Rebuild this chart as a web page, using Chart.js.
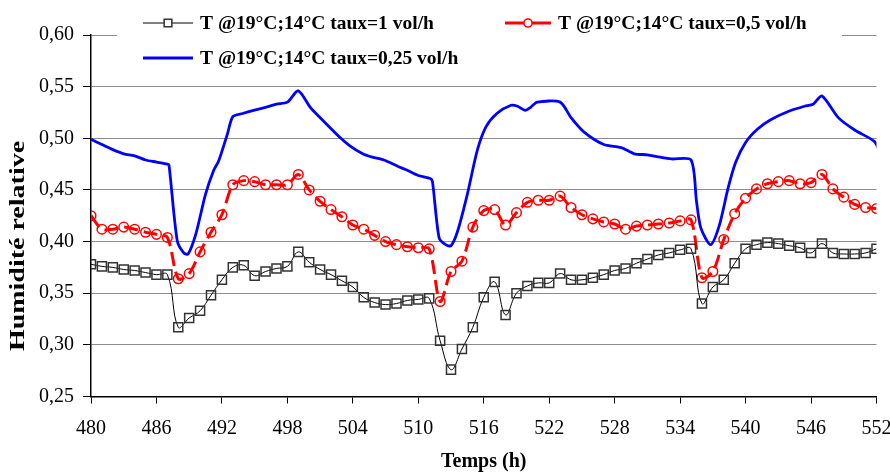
<!DOCTYPE html>
<html>
<head>
<meta charset="utf-8">
<script src="https://cdn.jsdelivr.net/npm/chart.js@4.4.0/dist/chart.umd.min.js"></script>
<style>
    body { margin: 0; background: #fff; }
</style>
</head>
<body>
<canvas id="chart" width="890" height="473"></canvas>
<script>
// hourly samples (black squares and red circles)
var hours = [480, 481, 482, 483, 484, 485, 486, 487, 488, 489, 490, 491, 492, 493, 494, 495, 496, 497, 498, 499,
    500, 501, 502, 503, 504, 505, 506, 507, 508, 509, 510, 511, 512, 513, 514, 515, 516, 517, 518, 519,
    520, 521, 522, 523, 524, 525, 526, 527, 528, 529, 530, 531, 532, 533, 534, 535, 536, 537, 538, 539,
    540, 541, 542, 543, 544, 545, 546, 547, 548, 549, 550, 551, 552];

var taux1 = [0.378, 0.376, 0.375, 0.373, 0.372, 0.370, 0.368, 0.368, 0.317, 0.326, 0.333, 0.348, 0.363, 0.375, 0.377, 0.367, 0.371, 0.374, 0.376, 0.390,
    0.380, 0.373, 0.368, 0.362, 0.356, 0.346, 0.341, 0.339, 0.340, 0.343, 0.344, 0.345, 0.304, 0.276, 0.296, 0.317, 0.346, 0.361, 0.329, 0.350,
    0.357, 0.360, 0.360, 0.369, 0.363, 0.363, 0.365, 0.368, 0.372, 0.374, 0.379, 0.383, 0.387, 0.389, 0.392, 0.393, 0.340, 0.356, 0.363, 0.379,
    0.393, 0.397, 0.399, 0.398, 0.396, 0.394, 0.389, 0.398, 0.389, 0.388, 0.388, 0.389, 0.393];

var taux05 = [0.425, 0.412, 0.412, 0.414, 0.412, 0.409, 0.407, 0.404, 0.364, 0.369, 0.390, 0.409, 0.426, 0.455, 0.459, 0.458, 0.455, 0.455, 0.455, 0.465,
    0.450, 0.439, 0.431, 0.424, 0.416, 0.412, 0.406, 0.400, 0.397, 0.395, 0.394, 0.393, 0.342, 0.371, 0.381, 0.414, 0.430, 0.431, 0.416, 0.428,
    0.438, 0.440, 0.440, 0.444, 0.433, 0.426, 0.422, 0.419, 0.417, 0.412, 0.415, 0.416, 0.417, 0.418, 0.420, 0.421, 0.365, 0.371, 0.402, 0.427,
    0.442, 0.451, 0.456, 0.458, 0.459, 0.456, 0.457, 0.465, 0.451, 0.443, 0.436, 0.433, 0.432];

// finer samples for the blue curve
var hours025 = [480, 481, 482, 483, 484, 485, 486, 487, 487.15, 487.9, 488.5, 488.9, 489.6, 490.5, 491.25, 491.7, 492.5, 493, 493.9, 494.9,
    496, 497, 498, 499, 500.1, 501, 502.8, 503.7, 504.9, 505.7, 506.85, 508.1, 509, 510, 511.1, 511.3, 511.9, 512.5, 513, 513.6,
    514.5, 515.4, 516.2, 517.2, 518.5, 519.1, 519.8, 520.3, 520.9, 523, 524, 525.2, 527, 528.6, 529.8, 531, 532, 533.2, 535, 535.5,
    535.9, 536.8, 537.6, 538.4, 539.1, 540, 541.1, 542.3, 543.9, 545.4, 546.2, 547, 548.5, 550, 551.8, 552.3];
var taux025 = [0.499, 0.494, 0.489, 0.485, 0.483, 0.479, 0.477, 0.475, 0.474, 0.401, 0.389, 0.388, 0.407, 0.446, 0.469, 0.478, 0.504, 0.521, 0.524, 0.527,
    0.530, 0.533, 0.535, 0.546, 0.530, 0.520, 0.501, 0.493, 0.485, 0.482, 0.479, 0.473, 0.469, 0.464, 0.461, 0.458, 0.404, 0.397, 0.396, 0.410,
    0.446, 0.488, 0.511, 0.524, 0.532, 0.531, 0.527, 0.530, 0.535, 0.535, 0.520, 0.506, 0.494, 0.491, 0.485, 0.484, 0.482, 0.480, 0.479, 0.439,
    0.413, 0.397, 0.416, 0.452, 0.477, 0.496, 0.509, 0.518, 0.526, 0.531, 0.533, 0.541, 0.520, 0.508, 0.497, 0.487];

var labels = ["T @19°C;14°C taux=1 vol/h", "T @19°C;14°C taux=0,5 vol/h", "T @19°C;14°C taux=0,25 vol/h"];
var yTitle = "Humidité relative";
var xTitle = "Temps (h)";

var serif = "'Liberation Serif', 'Times New Roman', serif";

function points(xs, ys) {
    var out = [];
    for (var i = 0; i < xs.length; i++) {
        out.push({ x: xs[i], y: ys[i] });
    }
    return out;
}

// legend drawn over the top of the plot, on a white box
var legendBox = {
    id: 'legendBox',
    afterDatasetsDraw: function (chart) {
        var ctx = chart.ctx;
        var spots = [{ x: 143, y: 23, len: 50 }, { x: 505, y: 23, len: 46 }, { x: 143, y: 58, len: 50 }];
        ctx.save();
        ctx.fillStyle = '#fff';
        ctx.fillRect(117, 0, 725, 74);
        chart.data.datasets.forEach(function (ds, i) {
            var s = spots[i];
            ctx.strokeStyle = ds.borderColor;
            ctx.lineWidth = ds.borderWidth;
            ctx.setLineDash([]);
            ctx.beginPath();
            ctx.moveTo(s.x, s.y);
            ctx.lineTo(s.x + s.len, s.y);
            ctx.stroke();
            if (ds.pointRadius > 0) {
                ctx.strokeStyle = ds.pointBorderColor;
                ctx.fillStyle = '#fff';
                ctx.lineWidth = ds.pointBorderWidth;
                Chart.helpers.drawPoint(ctx, {
                    pointStyle: ds.pointStyle,
                    radius: ds.pointRadius * 0.85,
                    borderWidth: ds.pointBorderWidth
                }, s.x + s.len / 2, s.y);
            }
            ctx.fillStyle = '#000';
            ctx.font = "bold 19.5px " + serif;
            ctx.textBaseline = 'middle';
            ctx.textAlign = 'left';
            ctx.fillText(ds.label, s.x + s.len + 7, s.y + 1);
        });
        ctx.restore();
    }
};

// stretched vertical title like the original
var yTitlePlugin = {
    id: 'yTitlePlugin',
    afterDraw: function (chart) {
        var ctx = chart.ctx;
        ctx.save();
        ctx.translate(19, 246);
        ctx.rotate(-Math.PI / 2);
        ctx.scale(1.4, 1);
        ctx.fillStyle = '#000';
        ctx.font = "bold 20px " + serif;
        ctx.textAlign = 'center';
        ctx.textBaseline = 'middle';
        ctx.fillText(yTitle, 0, 0);
        ctx.restore();
    }
};

new Chart(document.getElementById('chart'), {
    type: 'line',
    data: {
        datasets: [{
            label: labels[0],
            data: points(hours, taux1),
            borderColor: '#000',
            borderWidth: 1,
            tension: 0.4,
            pointStyle: 'rect',
            pointRadius: 6.4,
            pointBorderWidth: 1.5,
            pointBorderColor: '#333',
            pointBackgroundColor: 'rgba(255,255,255,0)'
        }, {
            label: labels[1],
            data: points(hours, taux05),
            borderColor: '#ff0000',
            borderWidth: 3,
            borderDash: [14, 6],
            tension: 0.3,
            pointStyle: 'circle',
            pointRadius: 4.8,
            pointBorderWidth: 1.5,
            pointBorderColor: '#ff0000',
            pointBackgroundColor: 'rgba(255,255,255,0)'
        }, {
            label: labels[2],
            data: points(hours025, taux025),
            borderColor: '#0000ff',
            borderWidth: 2.8,
            tension: 0.25,
            pointRadius: 0
        }]
    },
    options: {
        responsive: false,
        animation: false,
        events: [],
        layout: { padding: { left: 0, right: 0, top: 35, bottom: 0 } },
        plugins: {
            legend: { display: false },
            tooltip: { enabled: false }
        },
        scales: {
            x: {
                type: 'linear',
                min: 480,
                max: 552,
                afterFit: function (s) {
                    s.height = 76.5;
                    s.paddingLeft = 0;
                    s.paddingRight = 13.5;
                },
                ticks: {
                    stepSize: 6,
                    autoSkip: false,
                    maxRotation: 0,
                    color: '#000',
                    padding: 13,
                    font: { family: serif, size: 20 }
                },
                grid: {
                    drawOnChartArea: false,
                    drawTicks: true,
                    tickLength: 7,
                    tickColor: '#000'
                },
                border: { display: true, color: '#000', width: 1.5 },
                title: {
                    display: true,
                    text: xTitle,
                    color: '#000',
                    padding: { top: 0, bottom: -1 },
                    font: { family: serif, size: 20, weight: 'bold' }
                }
            },
            y: {
                min: 0.25,
                max: 0.6,
                afterFit: function (s) { s.width = 91; },
                ticks: {
                    stepSize: 0.05,
                    color: '#000',
                    padding: 9,
                    font: { family: serif, size: 20 },
                    callback: function (v) { return v.toFixed(2).replace('.', ','); }
                },
                grid: {
                    color: '#8c8c8c',
                    lineWidth: 1,
                    drawTicks: true,
                    tickLength: 8,
                    tickColor: '#000'
                },
                border: { display: true, color: '#000', width: 1.5 }
            }
        }
    },
    plugins: [legendBox, yTitlePlugin]
});
</script>
</body>
</html>
